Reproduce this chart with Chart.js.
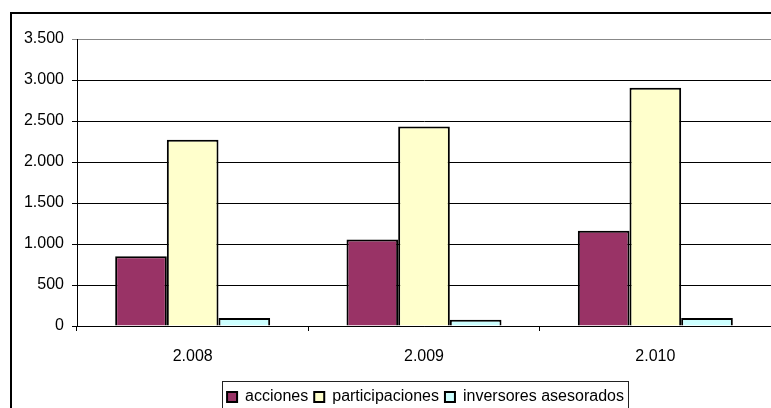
<!DOCTYPE html>
<html lang="es">
<head>
    <meta charset="UTF-8">
    <title>Acciones, participaciones e inversores asesorados</title>
    <style>
        html, body {
            margin: 0;
            padding: 0;
            background: #fff;
            overflow: hidden;
        }
        .chart-box {
            position: relative;
            width: 771px;
            height: 408px;
        }
    </style>
</head>
<body>
    <div class="chart-box">
        <canvas id="chart" width="771" height="408"></canvas>
    </div>

    <script src="https://cdn.jsdelivr.net/npm/chart.js"></script>
    <script>
        // datos
        const years = ['2.008', '2.009', '2.010'];
        const acciones = [850, 1055, 1162];
        const participaciones = [2272, 2432, 2905];
        const inversores = [98, 75, 98];
        const yTicks = [0, 500, 1000, 1500, 2000, 2500, 3000, 3500];

        const font = 'Liberation Sans, Arial, sans-serif';
        const legendShift = 40;

        function fmt(v) {
            return String(v).replace(/\B(?=(\d{3})+(?!\d))/g, '.');
        }

        // marco exterior, leyenda desplazada y su recuadro
        const framePlugin = {
            id: 'frame',
            afterUpdate(chart) {
                const lg = chart.legend;
                lg.left += legendShift;
                lg.right += legendShift;
                lg.legendHitBoxes.forEach(b => { b.left += legendShift; });
            },
            afterDraw(chart) {
                const c = chart.ctx;
                c.save();
                c.strokeStyle = '#000';
                c.lineWidth = 2;
                c.strokeRect(11, 13, 800, 500);

                const boxes = chart.legend.legendHitBoxes;
                if (boxes && boxes.length) {
                    const first = boxes[0];
                    const last = boxes[boxes.length - 1];
                    c.strokeStyle = '#222';
                    c.lineWidth = 1;
                    c.strokeRect(Math.round(first.left) - 4.5, 381.5,
                        Math.round(last.left + last.width) - Math.round(first.left) + 9, 60);
                }
                c.restore();
            }
        };

        const ctx = document.getElementById('chart').getContext('2d');
        const chart = new Chart(ctx, {
            type: 'bar',
            data: {
                labels: years,
                datasets: [{
                    label: 'acciones',
                    data: acciones,
                    backgroundColor: '#993366',
                    borderColor: '#000',
                    borderWidth: 2
                }, {
                    label: 'participaciones',
                    data: participaciones,
                    backgroundColor: '#FFFFCC',
                    borderColor: '#000',
                    borderWidth: 2
                }, {
                    label: 'inversores asesorados',
                    data: inversores,
                    backgroundColor: '#CCFFFF',
                    borderColor: '#000',
                    borderWidth: 2
                }]
            },
            options: {
                responsive: false,
                animation: false,
                layout: {
                    padding: { top: 39, left: 0, right: 0, bottom: -7 }
                },
                datasets: {
                    bar: {
                        categoryPercentage: 0.67,
                        barPercentage: 1.0
                    }
                },
                scales: {
                    x: {
                        grid: {
                            offset: true,
                            drawOnChartArea: false,
                            color: '#000',
                            tickLength: 5
                        },
                        border: { color: '#000', width: 1 },
                        ticks: {
                            color: '#000',
                            padding: 16,
                            font: { family: font, size: 16 }
                        },
                        afterFit(s) { s.height = 57; }
                    },
                    y: {
                        min: 0,
                        max: 3500,
                        afterBuildTicks(s) {
                            s.ticks = yTicks.map(v => ({ value: v }));
                        },
                        grid: {
                            color: ctx => ctx.tick && ctx.tick.value === 3500 ? '#888' : '#000',
                            lineWidth: 1,
                            tickLength: 5
                        },
                        border: { color: '#000', width: 1 },
                        ticks: {
                            color: '#000',
                            padding: 8,
                            font: { family: font, size: 16 },
                            callback: v => fmt(v)
                        },
                        afterFit(s) { s.width = 77; }
                    }
                },
                plugins: {
                    legend: {
                        position: 'bottom',
                        labels: {
                            color: '#000',
                            boxWidth: 10,
                            boxHeight: 10,
                            padding: 6,
                            font: { family: font, size: 16 }
                        }
                    },
                    tooltip: { enabled: false }
                }
            },
            plugins: [framePlugin]
        });
    </script>
</body>
</html>
